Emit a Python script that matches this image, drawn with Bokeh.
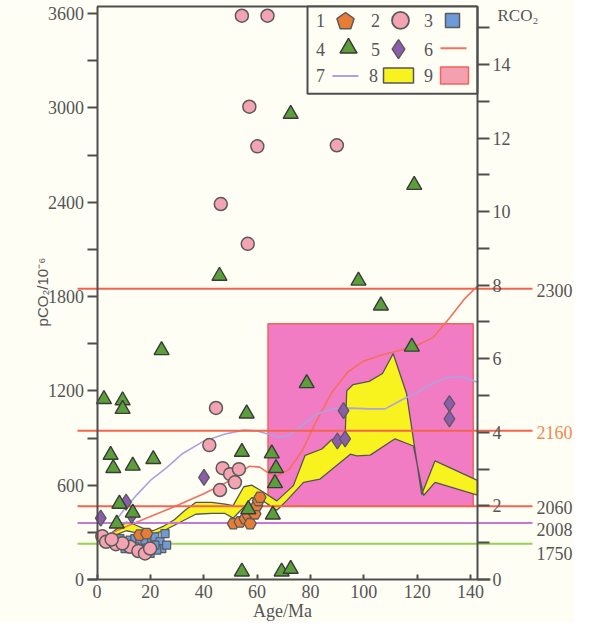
import numpy as np
from bokeh.plotting import figure
from bokeh.models import Range1d, LinearAxis, FixedTicker
from bokeh.core.properties import value
from bokeh.embed import file_html
from bokeh.resources import INLINE

# ---------------- data ----------------
# 1: orange pentagons
age1 = [15.9, 18.6, 51.1, 53.6, 55.5, 56.7, 57.4, 58.6, 59.2, 59.9, 60.5, 61.1]
pco2_1 = [282, 292, 355, 366, 387, 408, 355, 429, 418, 471, 502, 523]
# 2: pink circles
age2 = [54.3, 63.9, 57.1, 60.1, 89.9, 46.4, 56.5, 44.6, 42.1, 47.1, 49.9, 53.2, 51.7, 46.1,
        2.0, 3.4, 7.1, 12.4, 15.5, 18.0, 19.9, 9.5, 5.5]
pco2_2 = [3586, 3586, 3007, 2755, 2762, 2388, 2135, 1091, 855, 708, 670, 702, 618, 569,
          275, 240, 225, 208, 181, 166, 197, 230, 255]
# 3: blue squares
age3 = [8.6, 10.5, 12.4, 14.2, 16.1, 18.0, 12.4, 14.2, 18.6, 20.5, 21.7, 23.6, 25.5, 24.3,
        22.4, 26.1, 10.5, 19.9, 16.7, 21.7]
pco2_3 = [260, 240, 250, 260, 240, 250, 208, 208, 197, 240, 271, 240, 292, 197,
          187, 219, 197, 166, 187, 219]
# 4: green triangles
age4 = [72.6, 45.9, 118.9, 98.0, 106.4, 24.2, 78.6, 118.0, 2.6, 9.6, 9.6, 56.1, 5.1, 6.1,
        13.4, 21.1, 54.3, 65.5, 67.1, 66.7, 8.4, 13.4, 7.4, 56.7, 65.9, 54.3, 69.2, 72.6]
pco2_4 = [2961, 1931, 2509, 1900, 1742, 1458, 1248, 1480, 1147, 1139, 1084, 1055, 792, 708,
          723, 765, 811, 801, 708, 612, 481, 424, 355, 446, 412, 50, 50, 67]
# 5: purple diamonds
age5 = [1.4, 10.9, 13.0, 40.1, 92.4, 90.1, 93.0, 132.1, 132.1]
pco2_5 = [391, 492, 408, 649, 1074, 881, 895, 1118, 1021]
# 6: red curve
age6 = [1, 10, 20, 30, 40, 50, 57, 61, 64, 67, 72, 77, 82, 88, 94, 100, 107, 114, 120, 126, 132, 138, 142.6]
pco2_6 = [260, 330, 400, 470, 545, 630, 720, 715, 680, 655, 700, 820, 1000, 1190, 1320, 1390,
          1430, 1460, 1490, 1540, 1660, 1790, 1866]
# 7: lavender curve
age7 = [5, 10, 15, 20, 26, 32, 40, 48, 55, 60, 64, 68, 72, 77, 82, 88, 95, 102, 108, 114, 120,
        126, 131, 137, 142.6]
pco2_7 = [330, 440, 540, 630, 710, 800, 880, 925, 950, 945, 925, 905, 915, 980, 1050, 1085,
          1090, 1085, 1085, 1140, 1190, 1250, 1285, 1290, 1255]
# 8: yellow band (upper and lower bounds)
band_up_age = [3.5, 8, 11, 14, 18, 21, 25, 29, 33, 37, 43, 48, 51, 55, 58, 62, 67.4, 73.6, 78,
               84.3, 88, 93, 93.6, 96, 102, 107, 111, 116, 121.7, 126.7, 142.6]
band_up_pco2 = [270, 330, 365, 350, 320, 310, 340, 380, 440, 490, 490, 480, 470, 590, 600, 560,
                500, 597, 790, 830, 890, 910, 1200, 1240, 1260, 1310, 1437, 1185, 540, 755, 630]
band_lo_age = [3.5, 8, 11, 14, 18, 21, 25, 29, 33, 37, 43, 48, 51, 55, 58, 61, 64, 67.4, 71,
               77.4, 83.6, 87.4, 95, 97.4, 102.4, 111.7, 118.6, 122.4, 126.7, 142.6]
band_lo_pco2 = [270, 290, 310, 300, 280, 290, 310, 345, 380, 415, 420, 420, 390, 460, 520, 513,
                480, 440, 500, 618, 639, 692, 797, 786, 791, 895, 849, 534, 618, 536]
# 9: pink zone
zone_age = (64.1, 141.0)
zone_pco2 = (466, 1627)
# reference lines (pCO2 level, year label)
ref_pco2 = [1850, 946, 466, 360, 227]
ref_label = ["2300", "2160", "2060", "2008", "1750"]

left_ticks = [0, 600, 1200, 1800, 2400, 3000, 3600]
left_minor = [300, 900, 1500, 2100, 2700, 3300]
bottom_ticks = [0, 20, 40, 60, 80, 100, 120, 140]
right_ticks = [0, 2, 4, 6, 8, 10, 12, 14]
right_minor = [1, 3, 5, 7, 9, 11, 13, 15]
RFAC = 234.0  # pCO2 per RCO2 unit

# ---------------- layout ----------------
W, H = 574, 622
PX_X0, PX_PER_X = 96.5, 2.668          # screen mapping of Age
PX_Y0, PX_PER_Y = 579.0, 566.0 / 3600.0  # screen mapping of pCO2
x_start = -PX_X0 / PX_PER_X
x_end = (W - PX_X0) / PX_PER_X
y_start = -(H - PX_Y0) / PX_PER_Y
y_end = PX_Y0 / PX_PER_Y


def px2x(px):
    return (px - PX_X0) / PX_PER_X


def px2y(py):
    # a vertical position, as a pCO2 value
    return (588.0 - py) * 3600.0 / 571.0


def spy(py):
    # a vertical screen position of this figure, as a pCO2 value
    return (PX_Y0 - py) / PX_PER_Y


X_RIGHT = 142.6
Y_TOP = px2y(10)

BG = "#fefef5"
AX = "#4e4e4e"
TXT = "#555555"
SERIF = "Liberation Serif"

p = figure(width=W, height=H, x_range=Range1d(x_start, x_end), y_range=Range1d(y_start, y_end),
           output_backend="svg", toolbar_location=None, min_border=0,
           x_axis_type=None, y_axis_type=None,
           background_fill_color=BG, border_fill_color=BG, outline_line_color=None)
p.extra_y_ranges = {"r": Range1d(y_start / RFAC, y_end / RFAC)}


def style_axis(ax):
    ax.axis_line_color = AX
    ax.axis_line_width = 2
    ax.major_tick_line_color = AX
    ax.major_tick_line_width = 2
    ax.minor_tick_line_color = AX
    ax.minor_tick_line_width = 2
    ax.major_label_text_font = SERIF
    ax.major_label_text_font_size = "18px"
    ax.major_label_text_color = TXT


yl = LinearAxis(ticker=FixedTicker(ticks=left_ticks, minor_ticks=left_minor),
                fixed_location=0, bounds=(0, Y_TOP))
style_axis(yl)
yl.major_tick_out = 10
yl.major_tick_in = 0
yl.minor_tick_out = 10
yl.minor_tick_in = 0
yl.major_label_standoff = 3
p.add_layout(yl, "left")

xb = LinearAxis(ticker=FixedTicker(ticks=bottom_ticks, minor_ticks=[]),
                fixed_location=0, bounds=(-3.7, 147.6))
style_axis(xb)
xb.major_tick_in = 5
xb.major_tick_out = 0
xb.major_label_standoff = 5
p.add_layout(xb, "below")

yr = LinearAxis(y_range_name="r", ticker=FixedTicker(ticks=right_ticks, minor_ticks=right_minor),
                fixed_location=X_RIGHT, bounds=(0, Y_TOP / RFAC))
style_axis(yr)
yr.major_tick_out = 12
yr.major_tick_in = 0
yr.minor_tick_out = 12
yr.minor_tick_in = 0
yr.major_label_standoff = 3
p.add_layout(yr, "right")

# axis titles
p.text(x=[px2x(42)], y=[px2y(298)], text=["pCO₂/10⁻⁶"], angle=np.pi / 2,
       text_font=value("Liberation Sans"), text_font_size="15px", text_color=TXT,
       text_align="center", text_baseline="middle")
p.text(x=[px2x(282)], y=[spy(610)], text=["Age/Ma"], text_font=value(SERIF),
       text_font_size="18px", text_color=TXT, text_align="center", text_baseline="alphabetic")

# top border
p.segment(x0=[0], y0=[Y_TOP], x1=[X_RIGHT], y1=[Y_TOP], line_color=AX, line_width=2)

# 9: pink zone
p.quad(left=[zone_age[0]], right=[zone_age[1]], bottom=[zone_pco2[0]], top=[zone_pco2[1]],
       fill_color="#f27cc4", line_color="#f0645a", line_width=1.5)

# 8: yellow band
bx = list(band_lo_age) + list(band_up_age[::-1])
by = list(band_lo_pco2) + list(band_up_pco2[::-1])
p.patch(bx, by, fill_color="#f8f21e", line_color="#555555", line_width=1.3)

# 6, 7 curves
p.line(age6, pco2_6, line_color="#f2705e", line_width=1.6)
p.line(age7, pco2_7, line_color="#aaa2e2", line_width=1.6)

# reference lines
ref_colors = ["#f2644e", "#f2644e", "#f2644e", "#c47ad2", "#96d24e"]
ref_text_colors = [TXT, "#f08a50", TXT, TXT, TXT]
ref_text_dy = [2, 2, 1, 7, 10]
x_l, x_r = px2x(77), px2x(532)
p.segment(x0=[x_l] * 5, x1=[x_r] * 5, y0=ref_pco2, y1=ref_pco2, line_color=ref_colors, line_width=2)
for v, lab, c, dy in zip(ref_pco2, ref_label, ref_text_colors, ref_text_dy):
    p.text(x=[px2x(536)], y=[v], text=[lab], text_font=value(SERIF), text_font_size="18px",
           text_color=c, text_align="left", text_baseline="middle", y_offset=dy)

# markers
OUT = "#5a5a5a"
p.scatter(age3, pco2_3, marker="square", size=8, fill_color="#6e9ad8", line_color=OUT, line_width=1.2)
p.scatter(age2, pco2_2, marker="circle", size=13, fill_color="#f4a3b3", line_color=OUT, line_width=1.5)
p.scatter(age1, pco2_1, marker="hex", size=12, fill_color="#e97c35", line_color=OUT, line_width=1.3)
p.scatter(age5, pco2_5, marker="diamond", size=16, fill_color="#8c5cad", line_color=OUT, line_width=1.3)
p.scatter(age4, pco2_4, marker="triangle", size=15, fill_color="#5b9f3b", line_color="#3a3a3a", line_width=1.4)

# legend box
p.quad(left=[px2x(307)], right=[X_RIGHT], top=[Y_TOP], bottom=[px2y(98)],
       fill_color=BG, line_color=AX, line_width=2)
num_pos = [(320, 24), (375, 24), (428, 24), (320, 53), (375, 53), (428, 53), (320, 80), (373, 80), (428, 80)]
p.text(x=[px2x(a) for a, b in num_pos], y=[px2y(b) for a, b in num_pos],
       text=[str(i) for i in range(1, 10)], text_font=value(SERIF), text_font_size="18px",
       text_color=TXT, text_align="center", text_baseline="middle")
# pentagon icon
ang = np.pi / 2 + np.arange(5) * 2 * np.pi / 5
p.patch([px2x(345 + 9 * np.cos(a)) for a in ang], [px2y(25 - 9 * np.sin(a)) for a in ang],
        fill_color="#e97c35", line_color=OUT, line_width=1.5)
p.scatter([px2x(400)], [px2y(24)], marker="circle", size=17, fill_color="#f4a3b3", line_color=OUT, line_width=1.8)
p.scatter([px2x(452)], [px2y(24)], marker="square", size=14, fill_color="#6e9ad8", line_color=OUT, line_width=1.5)
p.scatter([px2x(348)], [px2y(52)], marker="triangle", size=17, fill_color="#5b9f3b", line_color="#3a3a3a", line_width=1.5)
p.scatter([px2x(398)], [px2y(53)], marker="diamond", size=19, fill_color="#8c5cad", line_color=OUT, line_width=1.5)
p.segment(x0=[px2x(440)], x1=[px2x(466)], y0=[px2y(52)], y1=[px2y(52)], line_color="#f2705e", line_width=2)
p.segment(x0=[px2x(332)], x1=[px2x(358)], y0=[px2y(80)], y1=[px2y(80)], line_color="#aaa2e2", line_width=2)
p.quad(left=[px2x(383)], right=[px2x(413)], top=[px2y(72)], bottom=[px2y(87)],
       fill_color="#f8f21e", line_color="#555555", line_width=1.5)
p.quad(left=[px2x(440)], right=[px2x(468)], top=[px2y(71)], bottom=[px2y(88)],
       fill_color="#f4a0b0", line_color="#f0645a", line_width=1.5)

# RCO2 label
p.text(x=[px2x(497)], y=[px2y(19)], text=["RCO₂"], text_font=value(SERIF), text_font_size="17px",
       text_color=TXT, text_align="left", text_baseline="middle")

open("out.html", "w").write(file_html(p, INLINE))
